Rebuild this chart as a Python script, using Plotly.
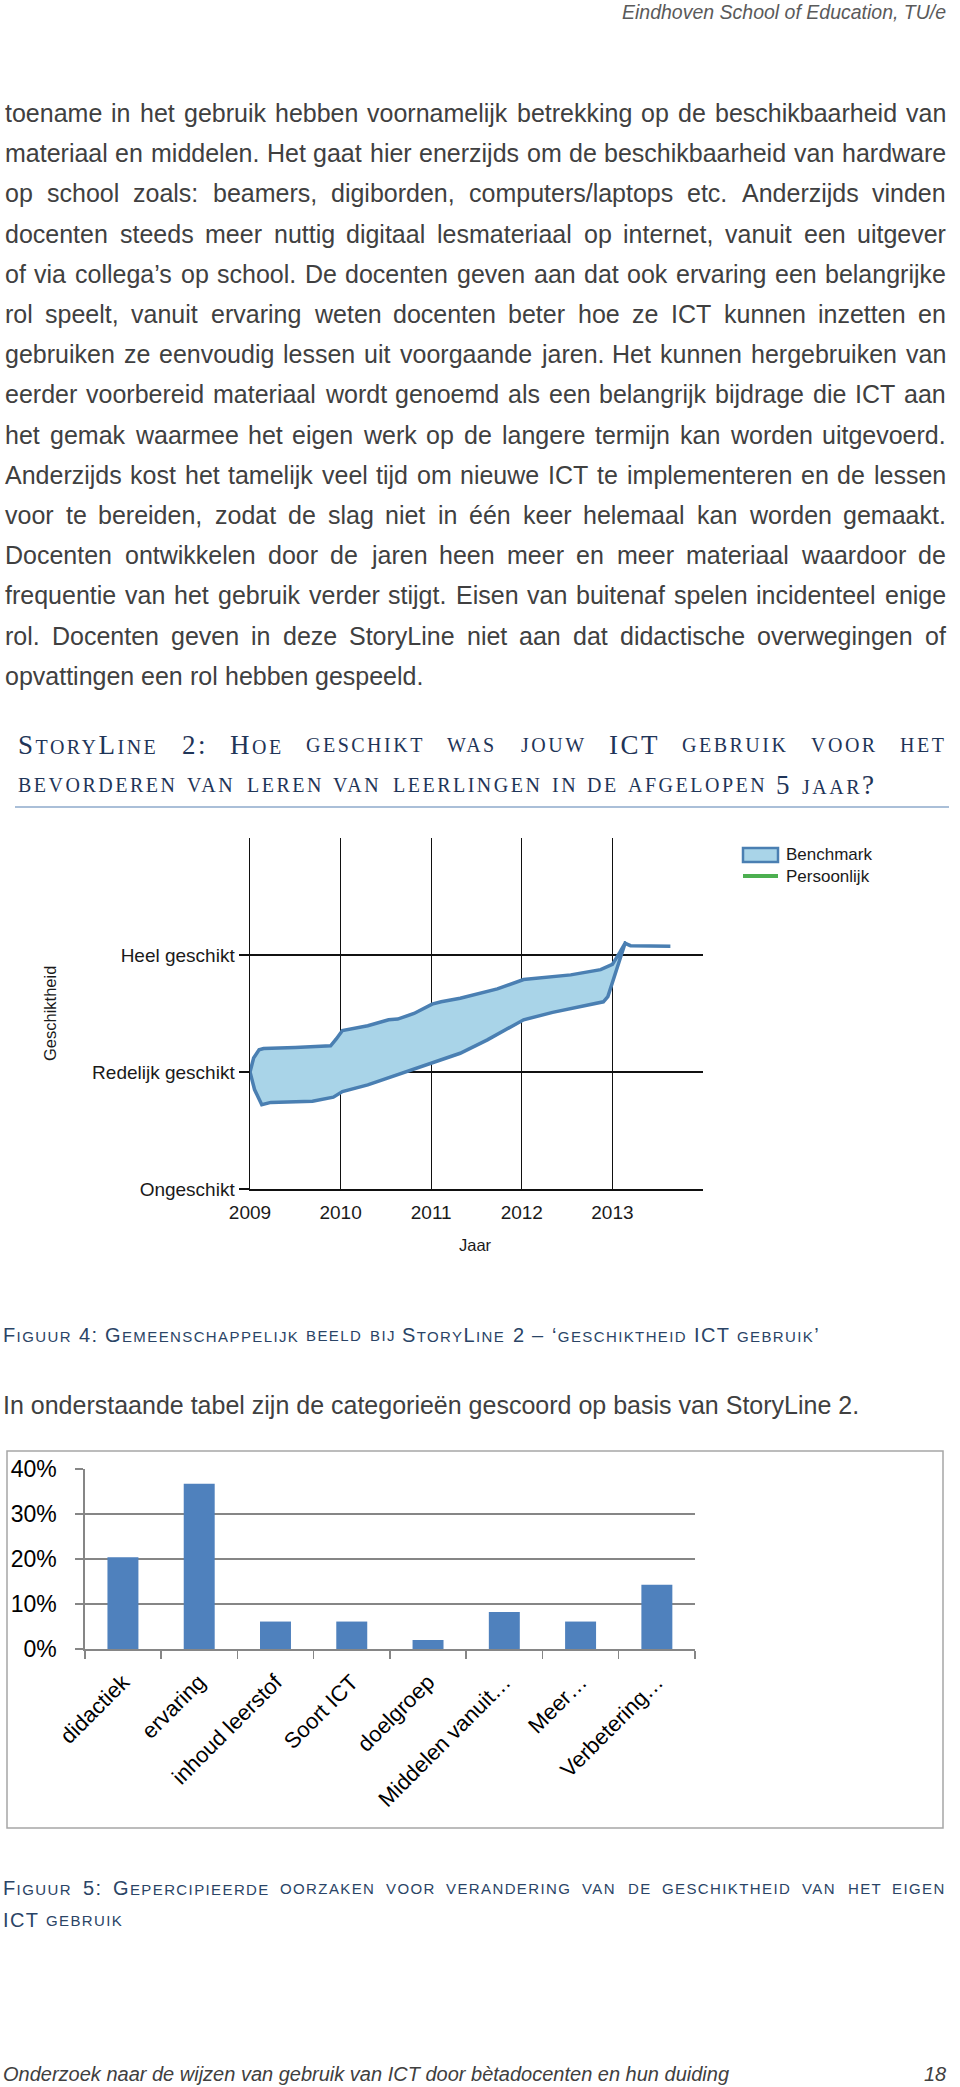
import plotly.graph_objects as go

W, H = 960, 2087

# ---------------- data: Figuur 4 (benchmark band) ----------------
years = [2009, 2010, 2011, 2012, 2013]
level_vals = [0, 1, 2]
level_labels = ["Ongeschikt", "Redelijk geschikt", "Heel geschikt"]

bench_upper_x = [2009.00, 2009.04, 2009.10, 2009.15, 2009.50, 2009.89, 2009.95, 2010.02, 2010.30,
                 2010.53, 2010.63, 2010.81, 2011.01, 2011.11, 2011.32, 2011.73, 2012.02, 2012.13,
                 2012.54, 2012.87, 2013.00, 2013.08, 2013.14, 2013.20, 2013.64]
bench_upper_y = [1.00, 1.12, 1.19, 1.20, 1.21, 1.224, 1.28, 1.355, 1.395,
                 1.447, 1.452, 1.50, 1.58, 1.60, 1.63, 1.71, 1.79, 1.80,
                 1.83, 1.875, 1.92, 2.02, 2.10, 2.08, 2.075]
bench_lower_x = [2009.00, 2009.05, 2009.13, 2009.23, 2009.69, 2009.92, 2010.02, 2010.30, 2010.55,
                 2011.00, 2011.32, 2011.62, 2012.02, 2012.34, 2012.90, 2012.95, 2013.03, 2013.08,
                 2013.14, 2013.20, 2013.64]
bench_lower_y = [1.00, 0.85, 0.72, 0.74, 0.75, 0.785, 0.833, 0.89, 0.96,
                 1.075, 1.16, 1.275, 1.446, 1.51, 1.60, 1.645, 1.82, 1.96,
                 2.10, 2.08, 2.075]
legend_labels = ["Benchmark", "Persoonlijk"]

# ---------------- data: Figuur 5 (bar chart) ----------------
categories = ["didactiek", "ervaring", "inhoud leerstof", "Soort ICT", "doelgroep",
              "Middelen vanuit…", "Meer…", "Verbetering…"]
percentages = [20.4, 36.7, 6.1, 6.1, 2.0, 8.2, 6.1, 14.3]
pct_ticks = [0, 10, 20, 30, 40]

# ---------------- text ----------------
HEADER = "Eindhoven School of Education, TU/e"
BODY_LINES = [
    "toename in het gebruik hebben voornamelijk betrekking op de beschikbaarheid van",
    "materiaal en middelen. Het gaat hier enerzijds om de beschikbaarheid van hardware",
    "op school zoals: beamers, digiborden, computers/laptops etc. Anderzijds vinden",
    "docenten steeds meer nuttig digitaal lesmateriaal op internet, vanuit een uitgever",
    "of via collega’s op school. De docenten geven aan dat ook ervaring een belangrijke",
    "rol speelt, vanuit ervaring weten docenten beter hoe ze ICT kunnen inzetten en",
    "gebruiken ze eenvoudig lessen uit voorgaande jaren. Het kunnen hergebruiken van",
    "eerder voorbereid materiaal wordt genoemd als een belangrijk bijdrage die ICT aan",
    "het gemak waarmee het eigen werk op de langere termijn kan worden uitgevoerd.",
    "Anderzijds kost het tamelijk veel tijd om nieuwe ICT te implementeren en de lessen",
    "voor te bereiden, zodat de slag niet in één keer helemaal kan worden gemaakt.",
    "Docenten ontwikkelen door de jaren heen meer en meer materiaal waardoor de",
    "frequentie van het gebruik verder stijgt. Eisen van buitenaf spelen incidenteel enige",
    "rol. Docenten geven in deze StoryLine niet aan dat didactische overwegingen of",
    "opvattingen een rol hebben gespeeld.",
]
HEADING_1 = "StoryLine 2: Hoe geschikt was jouw ICT gebruik voor het"
HEADING_2 = "bevorderen van leren van leerlingen in de afgelopen 5 jaar?"
CAPTION_4 = "Figuur 4: Gemeenschappelijk beeld bij StoryLine 2 – ‘geschiktheid ICT gebruik’"
INTRO_TABLE = "In onderstaande tabel zijn de categorieën gescoord op basis van StoryLine 2."
CAPTION_5A = "Figuur 5: Gepercipieerde oorzaken voor verandering van de geschiktheid van het eigen"
CAPTION_5B = "ICT gebruik"
FOOTER = "Onderzoek naar de wijzen van gebruik van ICT door bètadocenten en hun duiding"
PAGE_NO = "18"

# ---------------- font metrics (for word placement) ----------------
ARIAL = dict(zip("abcdefghijklmnopqrstuvwxyz",
                 [556, 556, 500, 556, 556, 278, 556, 556, 222, 222, 500, 222, 833, 556, 556, 556,
                  556, 333, 500, 278, 556, 500, 722, 500, 500, 500]))
ARIAL.update(dict(zip("ABCDEFGHIJKLMNOPQRSTUVWXYZ",
                      [667, 667, 722, 722, 667, 611, 778, 722, 278, 500, 667, 556, 833, 722, 778,
                       667, 778, 722, 667, 611, 722, 667, 944, 667, 667, 611])))
ARIAL.update({c: 556 for c in "0123456789"})
ARIAL.update({" ": 278, ",": 278, ".": 278, ":": 278, ";": 278, "?": 556, "/": 278, "’": 222,
              "‘": 222, "–": 556, "…": 1000, "%": 889, "é": 556, "ë": 556, "è": 556, "É": 667,
              "Ë": 667, "-": 333})
TIMES = dict(zip("ABCDEFGHIJKLMNOPQRSTUVWXYZ",
                 [722, 667, 667, 722, 611, 556, 722, 722, 333, 389, 722, 611, 889, 722, 722, 556,
                  722, 667, 556, 611, 722, 722, 944, 722, 722, 611]))
TIMES.update({c: 500 for c in "0123456789"})
TIMES.update({" ": 250, ":": 278, "?": 444})

SANS = "Liberation Sans, Arial, sans-serif"
SERIF = "Liberation Serif, Times New Roman, serif"
BODY_COLOR = "#404040"
HEAD_COLOR = "#1f3558"
CAP_COLOR = "#2a4466"

ann = []


def put(text, px, py, size, color, family=SANS, xanchor="left", angle=0, style="normal"):
    ann.append(dict(text=text, x=px / W, y=1 - py / H, xref="paper", yref="paper",
                    xanchor=xanchor, yanchor="middle", showarrow=False, textangle=angle,
                    borderpad=0, borderwidth=0,
                    font=dict(size=size, color=color, family=family, style=style)))


def plain_w(word, size):
    return sum(ARIAL.get(c, 556) for c in word) * size / 1000.0


def sc_word(word, big, small, ls, table):
    runs, width = [], 0.0
    for ch in word:
        if ch.islower():
            c, s = ch.upper(), small
        else:
            c, s = ch, big
        width += table.get(c, 556) * s / 1000.0 + ls
        if runs and runs[-1][1] == s:
            runs[-1][0] += c
        else:
            runs.append([c, s])
    html = "".join('<span style="font-size:%spx;letter-spacing:%spx">%s</span>' % (s, ls, t)
                   for t, s in runs)
    return html, width


def place(items, x0, y, gap, size, color, family):
    x = x0
    for html, wd in items:
        put(html, x, y, size, color, family)
        x += wd + gap


# header
put(HEADER, 946, 12, 19.5, "#5a5a5a", xanchor="right", style="italic")

# body text (justified)
BX0, BX1, BSIZE = 5, 946, 25
for i, line in enumerate(BODY_LINES):
    y = 113 + 40.2 * i
    words = line.split(" ")
    items = [(w, plain_w(w, BSIZE)) for w in words]
    if i < len(BODY_LINES) - 1:
        gap = (BX1 - BX0 - sum(wd for _, wd in items)) / (len(words) - 1)
    else:
        gap = ARIAL[" "] * BSIZE / 1000.0
    place(items, BX0, y, gap, BSIZE, BODY_COLOR, SANS)

# heading (small caps, serif)
HB, HS, HLS = 27, 20, 2.5
h1 = [sc_word(w, HB, HS, HLS, TIMES) for w in HEADING_1.split(" ")]
gap1 = (946 - 18 - sum(wd for _, wd in h1)) / (len(h1) - 1)
place(h1, 18, 745, gap1, HB, HEAD_COLOR, SERIF)
h2 = [sc_word(w, HB, HS, HLS, TIMES) for w in HEADING_2.split(" ")]
place(h2, 18, 785, 0.25 * HB + HLS, HB, HEAD_COLOR, SERIF)

# captions (small caps, sans)
CB, CS = 20, 15
cwords = CAPTION_4.split(" ")
nat = sum(sc_word(w, CB, CS, 0, ARIAL)[1] for w in cwords)
nchar = sum(len(w) for w in cwords)
space_c = ARIAL[" "] * CB / 1000.0
CLS = round((817 - nat - (len(cwords) - 1) * space_c) / (nchar + len(cwords) - 1), 2)
c4 = [sc_word(w, CB, CS, CLS, ARIAL) for w in cwords]
place(c4, 3, 1335, space_c + CLS, CB, CAP_COLOR, SANS)

put(INTRO_TABLE, 3, 1405, 25, BODY_COLOR)

c5a = [sc_word(w, CB, CS, CLS, ARIAL) for w in CAPTION_5A.split(" ")]
gap5 = (946 - 3 - sum(wd for _, wd in c5a)) / (len(c5a) - 1)
place(c5a, 3, 1888, gap5, CB, CAP_COLOR, SANS)
c5b = [sc_word(w, CB, CS, CLS, ARIAL) for w in CAPTION_5B.split(" ")]
place(c5b, 3, 1920, space_c + CLS, CB, CAP_COLOR, SANS)

# footer
put(FOOTER, 3, 2074, 20, "#404040", style="italic")
put(PAGE_NO, 946, 2074, 20, "#404040", xanchor="right", style="italic")

# chart 1 axis titles and legend text
put("Geschiktheid", 50, 1014, 16.5, "#1a1a1a", xanchor="center", angle=-90)
put("Jaar", 475, 1245, 16.5, "#1a1a1a", xanchor="center")
put(legend_labels[0], 786, 855, 17, "#1a1a1a")
put(legend_labels[1], 786, 877, 17, "#1a1a1a")

# ---------------- figure ----------------
fig = go.Figure()

band_x = bench_upper_x + bench_lower_x[::-1]
band_y = bench_upper_y + bench_lower_y[::-1]
fig.add_trace(go.Scatter(x=band_x, y=band_y, mode="lines", fill="toself",
                         fillcolor="#a9d4e8", line=dict(color="#4a7fb2", width=3.5),
                         xaxis="x", yaxis="y", showlegend=False, hoverinfo="skip"))

fig.add_trace(go.Bar(x=categories, y=percentages, marker=dict(color="#4f81bd", line=dict(width=0)),
                     xaxis="x2", yaxis="y2", showlegend=False))

shapes = [
    # rule under heading
    dict(type="line", xref="paper", yref="paper", x0=15 / W, x1=949 / W, y0=1 - 807 / H,
         y1=1 - 807 / H, line=dict(color="#8eaacb", width=1.5)),
    # bar chart frame
    dict(type="rect", xref="paper", yref="paper", x0=7 / W, x1=943 / W, y0=1 - 1828 / H,
         y1=1 - 1451 / H, line=dict(color="#a6a6a6", width=1.5)),
    # legend symbols
    dict(type="rect", xref="paper", yref="paper", x0=743 / W, x1=778 / W, y0=1 - 862 / H,
         y1=1 - 848 / H, fillcolor="#a9d4e8", line=dict(color="#4a7fb2", width=2.5)),
    dict(type="line", xref="paper", yref="paper", x0=743 / W, x1=778 / W, y0=1 - 876 / H,
         y1=1 - 876 / H, line=dict(color="#4caf50", width=4)),
]

fig.update_layout(
    template="none",
    width=W, height=H, autosize=False,
    margin=dict(l=0, r=0, t=0, b=0, pad=0, autoexpand=False),
    paper_bgcolor="white", plot_bgcolor="white",
    font=dict(family=SANS, color="#1a1a1a"),
    bargap=0.594, showlegend=False,
    annotations=ann, shapes=shapes,
    xaxis=dict(domain=[250 / W, 703 / W], anchor="y", range=[2009, 2014], automargin=False,
               tickvals=years, ticktext=[str(v) for v in years],
               showgrid=True, gridcolor="#111111", gridwidth=1.3,
               showline=True, linecolor="#111111", linewidth=1.5,
               ticks="", zeroline=False, tickfont=dict(size=19, color="#1a1a1a"),
               ticklabelstandoff=6, fixedrange=True),
    yaxis=dict(domain=[1 - 1189 / H, 1 - 838 / H], anchor="x", range=[0, 3], automargin=False,
               tickvals=level_vals, ticktext=level_labels,
               showgrid=True, gridcolor="#111111", gridwidth=1.3,
               showline=True, linecolor="#111111", linewidth=1.5,
               ticks="outside", ticklen=10, tickcolor="#111111", tickwidth=1.3,
               zeroline=False, tickfont=dict(size=19, color="#1a1a1a"), fixedrange=True),
    xaxis2=dict(domain=[84.8 / W, 695 / W], anchor="y2", type="category", automargin=False,
                range=[-0.5, len(categories) - 0.5], tickson="boundaries",
                ticks="outside", ticklen=8, tickcolor="#868686", tickwidth=1.5,
                showline=True, linecolor="#868686", linewidth=1.5, showgrid=False,
                tickangle=-45, tickfont=dict(size=22, color="#000000"),
                ticklabelstandoff=10, fixedrange=True),
    yaxis2=dict(domain=[1 - 1649 / H, 1 - 1469 / H], anchor="x2", range=[0, 40], automargin=False,
                tickvals=pct_ticks, ticktext=["%d%%" % v for v in pct_ticks],
                showgrid=True, gridcolor="#868686", gridwidth=1.5,
                showline=True, linecolor="#868686", linewidth=1.5,
                ticks="outside", ticklen=8, tickcolor="#868686", tickwidth=1.5,
                zeroline=False, tickfont=dict(size=23, color="#000000"),
                ticklabelstandoff=14, fixedrange=True),
)

fig.write_html("out.html", config={"displayModeBar": False, "staticPlot": True},
               post_script="document.body.style.margin='0';document.body.style.overflow='hidden';")
